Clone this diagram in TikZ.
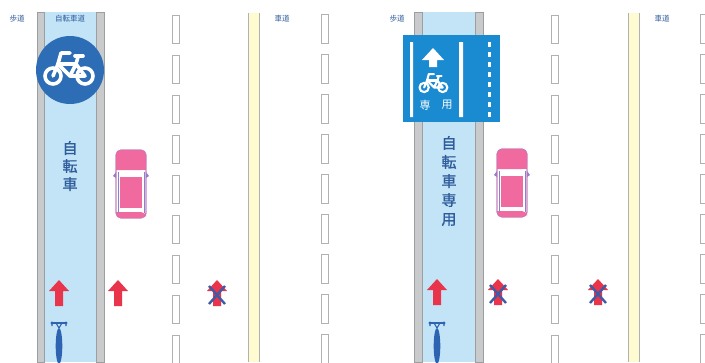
\documentclass[tikz,border=0pt]{standalone}
\usepackage{fontspec}
\setmainfont{Noto Sans CJK JP}
\newfontfamily\lanefont{Noto Sans CJK JP}[FakeBold=1.2]
\definecolor{laneblue}{HTML}{C2E4F6}
\definecolor{stripgray}{HTML}{C9CACB}
\definecolor{edgegray}{HTML}{9C9EA0}
\definecolor{circleblue}{HTML}{2C6DB5}
\definecolor{signblue}{HTML}{1A8BD1}
\definecolor{arrowred}{HTML}{E8354B}
\definecolor{xblue}{HTML}{3F5BA6}
\definecolor{carpink}{HTML}{F06A9F}
\definecolor{carline}{HTML}{8C7FD0}
\definecolor{bikeblue}{HTML}{2D63B0}
\definecolor{textblue}{HTML}{2F5C9C}
\definecolor{yellowfill}{HTML}{FFFBD0}
\tikzset{
  strip/.style={fill=stripgray,draw=edgegray,line width=0.6},
  lanefill/.style={fill=laneblue},
  dashbox/.style={fill=white,draw=edgegray!80,line width=0.6},
  smalllabel/.style={text=textblue,font=\fontsize{7.5}{8}\selectfont,inner sep=0pt},
  lanetext/.style={text=textblue,align=center,inner sep=0pt},
  % red travel arrow
  redarrow/.pic={
    \fill[arrowred] (0,-13) -- (10,-2) -- (4,-2) -- (4,13) -- (-4,13) -- (-4,-2) -- (-10,-2) -- cycle;
  },
  % arrow crossed out
  nogo/.pic={
    \pic {redarrow};
    \draw[xblue,line width=2.4] (-8,-7) -- (8,11) (8,-7) -- (-8,11);
  },
  % side view bicycle symbol (white)
  sidebike/.pic={
    \begin{scope}[white,line cap=round,line join=round]
      \draw (-17,6) circle (8) (15,6) circle (8);
      \draw (-17,6) -- (-12,-6) -- (0,6) -- (15,6) -- (6,-6) -- (0,6);
      \draw (-12,-6) -- (6,-6);
      \draw (-12,-6) -- (-9,-17) -- (0,-17);
      \draw (6,-6) -- (8,-13);
      \draw (5,-14) -- (13,-14);
    \end{scope}
  },
  % car seen from above
  car/.pic={
    \filldraw[fill=white,draw=carline,line width=0.9,rounded corners=5] (-15,-34) rectangle (15,34);
    \fill[carpink,rounded corners=5] (-15,-14) -- (-15,-34) -- (15,-34) -- (15,-14) [sharp corners] -- cycle;
    \fill[carpink] (-11,-7) rectangle (11,24);
    \fill[carpink,rounded corners=5] (-15,28) -- (-15,34) -- (15,34) -- (15,28) [sharp corners] -- cycle;
    \fill[carpink] (-15,-22) rectangle (15,-14);
    \draw[carline,line width=0.9] (-13,-12) -- (-13,29) (13,-12) -- (13,29);
    \fill[carline] (-15,-12) -- (-18,-8) -- (-15,-6) -- cycle (15,-12) -- (18,-8) -- (15,-6) -- cycle;
    \draw[carpink!80!carline,line width=0.7,rounded corners=5] (-15,-34) rectangle (15,34);
  },
  % bicycle seen from above
  topbike/.pic={
    \begin{scope}[bikeblue]
      \draw[line width=1.1] (-7,0) -- (7,0);
      \draw[line width=1.1] (-7,0) -- (-7,3) (7,0) -- (7,3) (-3,0) -- (0,5) -- (3,0);
      \fill (-7,0) circle (1.7) (7,0) circle (1.7);
      \fill (0,23) ellipse (3.3 and 18);
    \end{scope}
  }
}
\begin{document}
\begin{tikzpicture}[x=1pt,y=-1pt]
\useasboundingbox (0,0) rectangle (705,362);
\fill[white] (0,0) rectangle (705,362);

% ---------- left road: bicycle track ----------
\fill[lanefill] (44,12) rectangle (96,362);
\filldraw[strip] (37,12) rectangle (44,362);
\filldraw[strip] (96,12) rectangle (104,362);

\foreach \y in {15,55,...,335} {
  \filldraw[dashbox] (172.5,\y) rectangle (179.5,\y+28);
  \filldraw[dashbox] (321.5,\y-1) rectangle (328.5,\y+28);
}
\fill[yellowfill] (248,13) rectangle (259,362);
\draw[edgegray!80,line width=0.7] (248,13) -- (248,362) (259,13) -- (259,362);

\node[smalllabel] (walkL) at (17,19) {歩道};
\node[smalllabel] (trackL) at (70,19) {自転車道};
\node[smalllabel] (roadL) at (282,19) {車道};

\fill[circleblue] (70,70) circle (34);
\node[circle,minimum size=68pt,inner sep=0pt] (signL) at (70,70) {};
\pic[line width=3.6] at (70,70) {sidebike};

\node[lanetext,font=\lanefont\fontsize{15}{18}\selectfont] (textL) at (70,166) {自\\転\\車};

\pic at (131,184) {car};

\pic at (59,293) {redarrow};
\pic at (118,293) {redarrow};
\pic at (217,293) {nogo};
\pic at (59,323) {topbike};

% ---------- right road: bicycle lane ----------
\fill[lanefill] (422,12) rectangle (475,362);
\filldraw[strip] (414,12) rectangle (422,362);
\filldraw[strip] (475,12) rectangle (483,362);

\foreach \y in {15,55,...,335} {
  \filldraw[dashbox] (551.5,\y) rectangle (558.5,\y+28);
  \filldraw[dashbox] (700.5,\y-1) rectangle (707.5,\y+28);
}
\fill[yellowfill] (628,13) rectangle (639,362);
\draw[edgegray!80,line width=0.7] (628,13) -- (628,362) (639,13) -- (639,362);

\node[smalllabel] (walkR) at (397,19) {歩道};
\node[smalllabel] (roadR) at (662,19) {車道};

% sign for the exclusive lane
\fill[signblue] (403,35) rectangle (500,122);
\node[inner sep=0pt,minimum width=97pt,minimum height=87pt] (signR) at (451.5,78.5) {};
\fill[white] (410,42) rectangle (413,117) (459,42) rectangle (463,117);
\foreach \y in {42,52,...,112}
  \fill[white] (488,\y) rectangle (491,\y+5);
\fill[white] (433,48) -- (444,60) -- (437,60) -- (437,67) -- (429,67) -- (429,60) -- (422,60) -- cycle;
\pic[scale=0.58,line width=2.1] at (434,84) {sidebike};
\node[text=white,font=\fontsize{11}{12}\selectfont,inner sep=0pt] (senR) at (425,105) {専};
\node[text=white,font=\fontsize{11}{12}\selectfont,inner sep=0pt] (yoR) at (447,105) {用};

\node[lanetext,font=\lanefont\fontsize{15}{19}\selectfont] (textR) at (449,181) {自\\転\\車\\専\\用};

\pic at (512,183) {car};

\pic at (437,292) {redarrow};
\pic at (498,292) {nogo};
\pic at (598,292) {nogo};
\pic at (437,323) {topbike};
\end{tikzpicture}
\end{document}
